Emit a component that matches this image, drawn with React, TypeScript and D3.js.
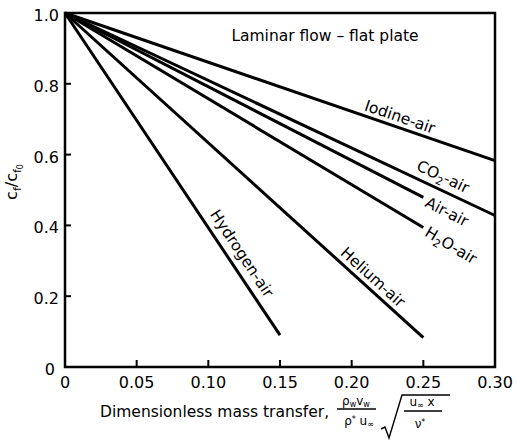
import React from "react";
import * as d3 from "d3";

// ---- data ----
const gases = ["Iodine-air", "CO2-air", "Air-air", "H2O-air", "Helium-air", "Hydrogen-air"];
const startX = [0, 0, 0, 0, 0, 0];
const startY = [1.0, 1.0, 1.0, 1.0, 1.0, 1.0];
const endX = [0.3, 0.3, 0.25, 0.25, 0.25, 0.15];
const endY = [0.583, 0.428, 0.479, 0.394, 0.083, 0.09];

// label anchor (data units) for each curve
const labelX = [0.2337, 0.2637, 0.2665, 0.2693, 0.2149, 0.1235];
const labelY = [0.707, 0.538, 0.439, 0.344, 0.254, 0.321];

const xTicks = [0, 0.05, 0.1, 0.15, 0.2, 0.25, 0.3];
const xTickLabels = ["0", "0.05", "0.10", "0.15", "0.20", "0.25", "0.30"];
const yTicks = [0, 0.2, 0.4, 0.6, 0.8, 1.0];
const yTickLabels = ["0", "0.2", "0.4", "0.6", "0.8", "1.0"];

const title = "Laminar flow \u2013 flat plate";
const xTitle = "Dimensionless mass transfer,";

const W = 519;
const H = 440;
const FONT = "'DejaVu Sans', sans-serif";

function GasLabel({ name }: { name: string }) {
  if (name === "CO2-air")
    return (
      <>
        CO<tspan dy="4" fontSize="11">2</tspan>
        <tspan dy="-4">-air</tspan>
      </>
    );
  if (name === "H2O-air")
    return (
      <>
        H<tspan dy="4" fontSize="11">2</tspan>
        <tspan dy="-4">O-air</tspan>
      </>
    );
  return <>{name}</>;
}

export default function App() {
  const x = d3.scaleLinear().domain([0, 0.3]).range([65, 495]);
  const y = d3.scaleLinear().domain([0, 1]).range([367, 13]);
  const line = d3
    .line<[number, number]>()
    .x((d) => x(d[0]))
    .y((d) => y(d[1]));

  return (
    <svg
      width={W}
      height={H}
      style={{ position: "absolute", left: 0, top: 0, background: "#fff" }}
      fontFamily={FONT}
    >
      <rect x={0} y={0} width={W} height={H} fill="#fff" />
      {/* frame */}
      <rect
        x={x(0)}
        y={y(1)}
        width={x(0.3) - x(0)}
        height={y(0) - y(1)}
        fill="none"
        stroke="#000"
        strokeWidth={2.5}
      />
      {/* ticks */}
      {xTicks.slice(1, -1).map((t) => (
        <line key={"xt" + t} x1={x(t)} x2={x(t)} y1={y(0)} y2={y(0) - 7} stroke="#000" strokeWidth={2} />
      ))}
      {yTicks.slice(1, -1).map((t) => (
        <line key={"yt" + t} x1={x(0)} x2={x(0) + 6} y1={y(t)} y2={y(t)} stroke="#000" strokeWidth={2} />
      ))}
      {xTicks.map((t, i) => (
        <text key={"xl" + t} x={x(t)} y={388} textAnchor="middle" fontSize={16}>
          {xTickLabels[i]}
        </text>
      ))}
      {yTicks.map((t, i) => (
        <text key={"yl" + t} x={t === 0 ? 55 : 59} y={y(t) + 8} textAnchor="end" fontSize={16}>
          {yTickLabels[i]}
        </text>
      ))}

      {/* curves */}
      {gases.map((g, i) => (
        <path
          key={g}
          d={line([
            [startX[i], startY[i]],
            [endX[i], endY[i]],
          ]) as string}
          fill="none"
          stroke="#000"
          strokeWidth={3}
        />
      ))}
      {/* curve labels */}
      {gases.map((g, i) => {
        const ang =
          (Math.atan2(y(endY[i]) - y(startY[i]), x(endX[i]) - x(startX[i])) * 180) / Math.PI;
        return (
          <text
            key={"lab" + g}
            transform={`translate(${x(labelX[i])},${y(labelY[i])}) rotate(${ang})`}
            textAnchor="middle"
            dy="0.35em"
            fontSize={15.5}
          >
            <GasLabel name={g} />
          </text>
        );
      })}

      {/* title */}
      <text x={325} y={41} textAnchor="middle" fontSize={15.5}>
        {title}
      </text>

      {/* y axis title: c_f / c_f0 */}
      <text transform="translate(17,182) rotate(-90)" textAnchor="middle" fontSize={16}>
        c<tspan dy="4" fontSize="11">f</tspan>
        <tspan dy="-4">/c</tspan>
        <tspan dy="4" fontSize="11">f</tspan>
        <tspan dy="2" fontSize="8">0</tspan>
      </text>

      {/* x axis title */}
      <text x={100} y={417} fontSize={15.5}>
        {xTitle}
      </text>
      {/* formula: rho_w v_w / (rho* u_inf) * sqrt(u_inf x / nu*) */}
      <g fontSize={12}>
        <text x={356} y={405} textAnchor="middle">
          ρ<tspan dy="2" fontSize="8">w</tspan>
          <tspan dy="-2">v</tspan>
          <tspan dy="2" fontSize="8">w</tspan>
        </text>
        <line x1={337} x2={376} y1={409} y2={409} stroke="#000" strokeWidth={1.3} />
        <text x={359} y={425} textAnchor="middle">
          ρ<tspan dy="-3" fontSize="8">*</tspan>
          <tspan dy="3"> u</tspan>
          <tspan dy="2" fontSize="8">∞</tspan>
        </text>
        <path
          d="M381,429 L385,427 L389,438 L402,395 L450,395"
          fill="none"
          stroke="#000"
          strokeWidth={1.4}
        />
        <text x={422} y={406} textAnchor="middle">
          u<tspan dy="2" fontSize="8">∞</tspan>
          <tspan dy="-2"> x</tspan>
        </text>
        <line x1={404} x2={442} y1={411} y2={411} stroke="#000" strokeWidth={1.3} />
        <text x={420} y={428} textAnchor="middle">
          ν<tspan dy="-3" fontSize="8">*</tspan>
        </text>
      </g>
    </svg>
  );
}
